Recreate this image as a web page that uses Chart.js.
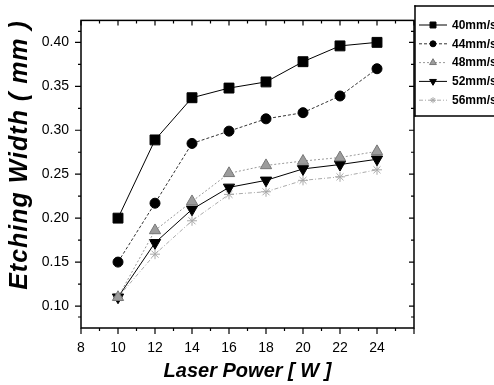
<!DOCTYPE html>
<html><head><meta charset="utf-8">
<script src="https://cdn.jsdelivr.net/npm/chart.js@4/dist/chart.umd.min.js"></script>
<style>html,body{margin:0;padding:0;background:#fff;overflow:hidden;}canvas{display:block;}</style>
</head><body>
<canvas id="c" width="494" height="385"></canvas>
<script>
const laserPower = [10, 12, 14, 16, 18, 20, 22, 24];
const speedLabels = ['40mm/s', '44mm/s', '48mm/s', '52mm/s', '56mm/s'];
const width40 = [0.200, 0.289, 0.337, 0.348, 0.355, 0.378, 0.396, 0.400];
const width44 = [0.150, 0.217, 0.285, 0.299, 0.313, 0.320, 0.339, 0.370];
const width48 = [0.110, 0.186, 0.219, 0.251, 0.260, 0.265, 0.269, 0.276];
const width52 = [0.110, 0.172, 0.210, 0.235, 0.243, 0.256, 0.261, 0.267];
const width56 = [0.110, 0.159, 0.197, 0.227, 0.230, 0.243, 0.247, 0.255];
const xTickLabels = [8, 10, 12, 14, 16, 18, 20, 22, 24, 26];
const yTickLabels = [0.10, 0.15, 0.20, 0.25, 0.30, 0.35, 0.40];
const xTitle = 'Laser Power [ W ]';
const yTitle = 'Etching Width ( mm )';

const FONT = "'Liberation Sans', Arial, sans-serif";
const pts = arr => laserPower.map((x, i) => ({x: x, y: arr[i]}));
const mk = (label, arr, o) => Object.assign({label: label, data: pts(arr), tension: 0, borderWidth: 1, pointBorderWidth: 1, fill: false}, o);

const datasets = [
  mk(speedLabels[0], width40, {borderColor: '#000', pointStyle: 'rect', pointRadius: 7, pointBackgroundColor: '#000', pointBorderColor: '#000'}),
  mk(speedLabels[1], width44, {borderColor: '#333', borderDash: [3, 2], pointStyle: 'circle', pointRadius: 5, pointBackgroundColor: '#000', pointBorderColor: '#000'}),
  mk(speedLabels[2], width48, {borderColor: '#999', borderDash: [2, 2], pointStyle: 'triangle', pointRadius: 6.5, pointBackgroundColor: '#9c9c9c', pointBorderColor: '#777'}),
  mk(speedLabels[3], width52, {borderColor: '#000', pointStyle: 'triangle', pointRotation: 180, pointRadius: 6.5, pointBackgroundColor: '#000', pointBorderColor: '#000'}),
  mk(speedLabels[4], width56, {borderColor: '#aaa', borderDash: [4, 2, 1, 2], pointStyle: 'star', pointRadius: 5, pointBackgroundColor: '#bbb', pointBorderColor: '#a8a8a8'})
];

const framePlugin = {
  id: 'frame',
  afterDraw(chart) {
    const ctx = chart.ctx;
    const a = chart.chartArea;
    const xs = chart.scales.x, ys = chart.scales.y;
    ctx.save();
    ctx.strokeStyle = '#000';
    ctx.lineWidth = 1.5;
    ctx.setLineDash([]);
    ctx.strokeRect(a.left, a.top, a.right - a.left, a.bottom - a.top);
    ctx.lineWidth = 1.2;
    ctx.beginPath();
    for (let i = 0; i < xTickLabels.length; i++) {
      const v = xTickLabels[i];
      const px = xs.getPixelForValue(v);
      ctx.moveTo(px, a.bottom); ctx.lineTo(px, a.bottom + 6);
      ctx.moveTo(px, a.top); ctx.lineTo(px, a.top + 5);
      if (i < xTickLabels.length - 1) {
        const m = xs.getPixelForValue((v + xTickLabels[i + 1]) / 2);
        ctx.moveTo(m, a.bottom); ctx.lineTo(m, a.bottom + 3);
        ctx.moveTo(m, a.top); ctx.lineTo(m, a.top + 3);
      }
    }
    const yAll = [ys.min].concat(yTickLabels, [ys.max]);
    for (let i = 0; i < yAll.length; i++) {
      const v = yAll[i];
      const py = ys.getPixelForValue(v);
      if (yTickLabels.indexOf(v) >= 0) {
        ctx.moveTo(a.left, py); ctx.lineTo(a.left - 6, py);
        ctx.moveTo(a.right, py); ctx.lineTo(a.right - 5, py);
      }
      if (i < yAll.length - 1) {
        const mv = (v + yAll[i + 1]) / 2;
        const m = ys.getPixelForValue(mv);
        ctx.moveTo(a.left, m); ctx.lineTo(a.left - 3, m);
        ctx.moveTo(a.right, m); ctx.lineTo(a.right - 3, m);
      }
    }
    ctx.stroke();

    ctx.fillStyle = '#000';
    ctx.textAlign = 'center';
    ctx.textBaseline = 'middle';
    ctx.font = 'italic bold 20px ' + FONT;
    ctx.fillText(xTitle, (a.left + a.right) / 2, 371);
    ctx.save();
    ctx.translate(20, 155);
    ctx.rotate(-Math.PI / 2);
    ctx.font = 'italic bold 25px ' + FONT;
    if ('letterSpacing' in ctx) ctx.letterSpacing = '1px';
    ctx.fillText(yTitle, 0, 0);
    ctx.restore();

    // legend box: open on the right, drawn as filled bars (top, left, bottom)
    const lx = a.right + 1;
    ctx.fillStyle = '#000';
    ctx.fillRect(lx - 0.75, 5.25, 200, 1.5);
    ctx.fillRect(lx - 0.75, 5.25, 1.5, 111.5);
    ctx.fillRect(lx - 0.75, 115.25, 200, 1.5);
    ctx.font = 'bold 12px ' + FONT;
    ctx.textAlign = 'left';
    chart.data.datasets.forEach((ds, i) => {
      const y = 25 + i * 18.8;
      ctx.strokeStyle = ds.borderColor;
      ctx.lineWidth = 1;
      ctx.setLineDash(ds.borderDash || []);
      ctx.beginPath();
      ctx.moveTo(lx + 4, y); ctx.lineTo(lx + 32, y);
      ctx.stroke();
      ctx.setLineDash([]);
      ctx.fillStyle = ds.pointBackgroundColor;
      ctx.strokeStyle = ds.pointBorderColor;
      if (Chart.helpers && Chart.helpers.drawPoint) {
        Chart.helpers.drawPoint(ctx, {pointStyle: ds.pointStyle, rotation: ds.pointRotation || 0, radius: ds.pointRadius * 0.6, borderWidth: 1}, lx + 18, y);
      }
      ctx.fillStyle = '#000';
      ctx.fillText(ds.label, lx + 37, y + 0.5);
    });
    ctx.restore();
  }
};

new Chart(document.getElementById('c'), {
  type: 'line',
  data: {datasets: datasets},
  options: {
    responsive: false,
    animation: false,
    devicePixelRatio: 1,
    layout: {padding: {top: 8, right: 80, bottom: 0, left: 0}},
    plugins: {legend: {display: false}, tooltip: {enabled: false}},
    scales: {
      x: {
        type: 'linear', min: 8, max: 26,
        grid: {display: false, drawTicks: false}, border: {display: false},
        afterBuildTicks: s => { s.ticks = xTickLabels.map(v => ({value: v})); },
        afterFit: s => { s.height = 57; },
        ticks: {padding: 12, autoSkip: false, maxRotation: 0, color: '#000', font: {family: FONT, size: 14},
          callback: v => (v === 26 ? '' : String(v))}
      },
      y: {
        type: 'linear', min: 0.075, max: 0.425,
        grid: {display: false, drawTicks: false}, border: {display: false},
        afterBuildTicks: s => { s.ticks = yTickLabels.map(v => ({value: v})); },
        afterFit: s => { s.width = 81; },
        ticks: {padding: 12, autoSkip: false, color: '#000', font: {family: FONT, size: 14},
          callback: v => Number(v).toFixed(2)}
      }
    }
  },
  plugins: [framePlugin]
});
</script>
</body></html>
